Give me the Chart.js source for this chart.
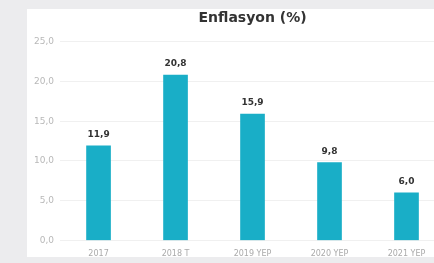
<!DOCTYPE html>
<html>
<head>
<meta charset="utf-8">
<script src="https://cdn.jsdelivr.net/npm/chart.js@4"></script>
<style>
  html, body { margin: 0; padding: 0; }
  body { width: 434px; height: 263px; overflow: hidden; background: #ececee; position: relative; }
  #panel { position: absolute; left: 27px; top: 9px; width: 407px; height: 248px; background: #fff; overflow: hidden; }
  #inflation_chart { position: absolute; left: 0; top: 0; }
</style>
</head>
<body>
<div id="panel"><canvas id="inflation_chart" width="418" height="259"></canvas></div>
<script>
const years = ["2017", "2018 T", "2019 YEP", "2020 YEP", "2021 YEP"];
const inflation = [11.9, 20.8, 15.9, 9.8, 6.0];
const yTicks = [0, 5, 10, 15, 20, 25];

const fmt = (v) => v.toFixed(1).replace(".", ",");

// simple value labels above bars (no datalabels plugin available)
const valueLabels = {
  id: "valueLabels",
  afterDatasetsDraw(chart) {
    const ctx = chart.ctx;
    const meta = chart.getDatasetMeta(0);
    ctx.save();
    ctx.font = "bold 9px 'DejaVu Sans'";
    ctx.fillStyle = "#333";
    ctx.textAlign = "center";
    ctx.textBaseline = "alphabetic";
    meta.data.forEach((bar, i) => {
      ctx.fillText(fmt(inflation[i]), bar.x, bar.y - 9);
    });
    ctx.restore();
  },
};

const c1 = document.getElementById("inflation_chart").getContext("2d");
new Chart(c1, {
  type: "bar",
  data: {
    labels: years,
    datasets: [
      {
        label: "Enflasyon (%)",
        data: inflation,
        backgroundColor: "#19aec7",
        barThickness: 24,
      },
    ],
  },
  options: {
    responsive: false,
    animation: false,
    layout: { padding: { left: 1, right: 0, top: 0, bottom: 0 } },
    plugins: {
      legend: { display: false },
      tooltip: { enabled: false },
      title: {
        display: true,
        text: "Enflasyon (%)",
        fullSize: false,
        color: "#333",
        font: { family: "'DejaVu Sans'", size: 14, weight: "bold" },
        padding: { top: 1, bottom: 15 },
      },
    },
    scales: {
      x: {
        grid: { display: false, drawTicks: false },
        border: { display: false },
        ticks: {
          color: "#aaaaaa",
          font: { family: "'DejaVu Sans'", size: 8 },
          padding: 9,
          maxRotation: 0,
          autoSkip: false,
        },
      },
      y: {
        min: yTicks[0],
        max: yTicks[yTicks.length - 1],
        afterBuildTicks: (axis) => {
          axis.ticks = yTicks.map((v) => ({ value: v }));
        },
        grid: { color: "#f0f0f0", drawTicks: false },
        border: { display: false },
        ticks: {
          color: "#b8b8b8",
          font: { family: "'DejaVu Sans'", size: 9 },
          padding: 6,
          callback: (v) => fmt(v),
        },
      },
    },
  },
  plugins: [valueLabels],
});
</script>
</body>
</html>
